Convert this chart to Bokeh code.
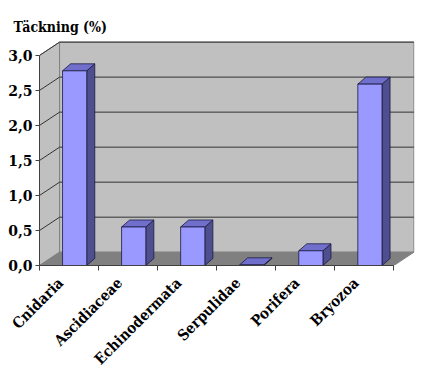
from bokeh.plotting import figure
from bokeh.models import FixedTicker, Range1d
from bokeh.embed import file_html
from bokeh.resources import INLINE

categories = ["Cnidaria", "Ascidiaceae", "Echinodermata", "Serpulidae", "Porifera", "Bryozoa"]
values = [2.78, 0.55, 0.55, 0.01, 0.21, 2.59]
y_ticks = [0.0, 0.5, 1.0, 1.5, 2.0, 2.5, 3.0]
y_tick_labels = ["0,0", "0,5", "1,0", "1,5", "2,0", "2,5", "3,0"]

n = len(categories)
ymax = y_ticks[-1]
DX, DY = 0.34, 0.19          # depth of the 3D box (data units)
BX, BY = 0.136, 0.10         # depth of each bar
BL, BW = 0.39, 0.41          # bar front-face offset and width inside a category
LABEL_SHIFT = 0.36           # anchor of the rotated category labels inside a category

SERIF = "DejaVu Serif"
SERIF_C = "DejaVu Serif Condensed"

p = figure(width=421, height=377, output_backend="svg", toolbar_location=None,
           x_range=Range1d(0, n + DX + 0.01), y_range=Range1d(0, ymax + 0.213),
           min_border_left=39, min_border_right=7, min_border_top=40, min_border_bottom=111)
p.background_fill_color = "white"
p.outline_line_color = None
p.grid.visible = False

# walls and floor
p.patch([0, DX, DX, 0], [0, DY, ymax + DY, ymax], fill_color="#c0c0c0", line_color="#808080", line_width=1)
p.patch([DX, n + DX, n + DX, DX], [DY, DY, ymax + DY, ymax + DY], fill_color="#c0c0c0", line_color="#808080", line_width=1)
p.patch([0, n, n + DX, DX], [0, 0, DY, DY], fill_color="#808080", line_color="#808080", line_width=1)

# gridlines (left wall diagonal + back wall horizontal)
gx, gy = [], []
for v in y_ticks[1:]:
    gx.append([0, DX, n + DX])
    gy.append([v, v + DY, v + DY])
p.multi_line(gx, gy, line_color="#333333", line_width=1)

# bars
fx, fy, tx, ty, sx, sy = [], [], [], [], [], []
for i, v in enumerate(values):
    x0 = i + BL
    x1 = x0 + BW
    fx.append([x0, x1, x1, x0]); fy.append([0, 0, v, v])
    tx.append([x0, x1, x1 + BX, x0 + BX]); ty.append([v, v, v + BY, v + BY])
    sx.append([x1, x1 + BX, x1 + BX, x1]); sy.append([0, BY, v + BY, v])
p.patches(sx, sy, fill_color="#4f4f8f", line_color="#1a1a40", line_width=0.8)
p.patches(tx, ty, fill_color="#7070cc", line_color="#1a1a40", line_width=0.8)
p.patches(fx, fy, fill_color="#9999ff", line_color="#1a1a40", line_width=0.8)

# axes
yax = p.yaxis[0]
yax.ticker = FixedTicker(ticks=y_ticks)
yax.major_label_overrides = {t: l for t, l in zip(y_ticks, y_tick_labels)}
yax.bounds = (0, ymax)
yax.minor_tick_line_color = None
yax.major_tick_in = 0
yax.major_tick_out = 4
yax.axis_line_color = "#404040"
yax.major_tick_line_color = "#404040"
yax.major_label_text_font = SERIF
yax.major_label_text_font_style = "bold"
yax.major_label_text_font_size = "14px"
yax.major_label_text_color = "black"
yax.major_label_standoff = 3

xax = p.xaxis[0]
centers = [i + LABEL_SHIFT for i in range(n)]
xax.ticker = FixedTicker(ticks=centers, minor_ticks=list(range(n + 1)))
xax.major_label_overrides = {c: name for c, name in zip(centers, categories)}
xax.bounds = (0, n)
xax.major_tick_line_color = None
xax.minor_tick_in = 0
xax.minor_tick_out = 5
xax.minor_tick_line_color = "#404040"
xax.axis_line_color = "#404040"
xax.major_label_orientation = 0.785
xax.major_label_text_font = SERIF_C
xax.major_label_text_font_style = "bold"
xax.major_label_text_font_size = "15px"
xax.major_label_text_color = "black"
xax.major_label_standoff = 9

p.title.text = "Täckning (%)"
p.title.text_font = SERIF_C
p.title.text_font_style = "bold"
p.title.text_font_size = "14px"
p.title.text_color = "black"
p.title.align = "left"
p.title.offset = -26
p.title.standoff = 12

open("out.html", "w").write(file_html(p, INLINE))
